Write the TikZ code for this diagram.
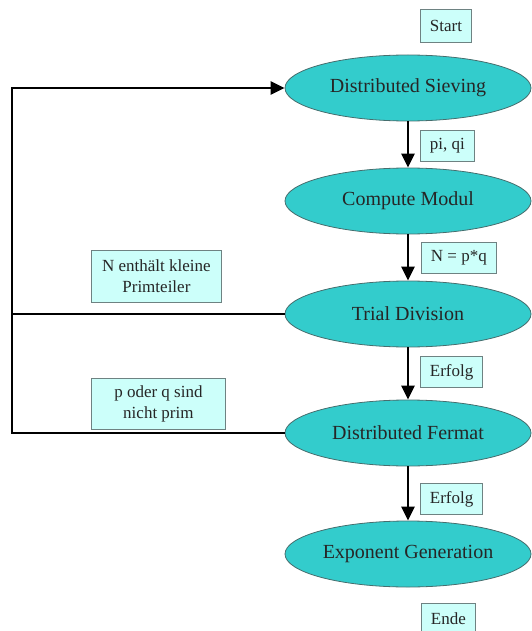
\documentclass[tikz,border=0pt]{standalone}
\usepackage{fontspec}
\setmainfont{Liberation Serif}
\newfontfamily\timesface{Liberation Serif}
\usetikzlibrary{shapes.geometric,arrows.meta}
\definecolor{stagefill}{RGB}{51,204,204}
\definecolor{stageline}{RGB}{70,110,110}
\definecolor{tagfill}{RGB}{204,255,250}
\definecolor{tagline}{RGB}{110,130,130}
\tikzset{
  stage/.style={ellipse, draw=stageline, line width=0.8pt, fill=stagefill,
    minimum width=246pt, minimum height=66pt, inner sep=0pt,
    font=\timesface\fontsize{20}{22}\selectfont, text=black!85},
  tag/.style={draw=tagline, line width=0.8pt, fill=tagfill, anchor=north west,
    inner xsep=9.5pt, inner ysep=0pt, minimum height=31pt,
    font=\timesface\fontsize{17}{20}\selectfont, text=black!85},
  note/.style={draw=tagline, line width=0.8pt, fill=tagfill, anchor=north west,
    align=center, inner sep=0pt, font=\timesface\fontsize{17}{21}\selectfont, text=black!85},
  flow/.style={line width=2.6pt, -{Triangle[length=14pt,width=13pt]}},
  back/.style={line width=2.6pt, line join=miter},
}
\begin{document}
\begin{tikzpicture}[x=1pt,y=-1pt]
\useasboundingbox (0,0) rectangle (531,631);

% process stages
\node[stage] (ds) at (408,88)  {Distributed Sieving};
\node[stage] (cm) at (408,201) {Compute Modul};
\node[stage] (td) at (408,314) {Trial Division};
\node[stage] (df) at (408,433) {Distributed Fermat};
\node[stage] (eg) at (408,554) {Exponent Generation};

% start / end markers and transition labels
\node[tag, minimum height=33pt] (start) at (420,9) {Start};
\node[tag] (piqi)  at (420,130) {pi, qi};
\node[tag] (npq)   at (421,242) {N = p*q};
\node[tag] (erf1)  at (420,356) {Erfolg};
\node[tag] (erf2)  at (420,483) {Erfolg};
\node[tag] (ende)  at (421,603) {Ende};

% failure notes on the loop back
\node[note, minimum width=130pt, minimum height=52pt] (small) at (91,250)
  {N enthält kleine\\Primteiler};
\node[note, minimum width=134pt, minimum height=51pt] (notprime) at (91,378)
  {p oder q sind\\nicht prim};

% main flow
\draw[flow] (ds.south) -- (cm.north);
\draw[flow] (cm.south) -- (td.north);
\draw[flow] (td.south) -- (df.north);
\draw[flow] (df.south) -- (eg.north);

% loop back to sieving
\coordinate (top) at (12,88);
\coordinate (bot) at (12,433);
\draw[back] (td.west) -- (td.west -| top);
\draw[back, -{Triangle[length=14pt,width=13pt]}] (df.west) -- (bot) -- (top) -- (ds.west);
\end{tikzpicture}
\end{document}
